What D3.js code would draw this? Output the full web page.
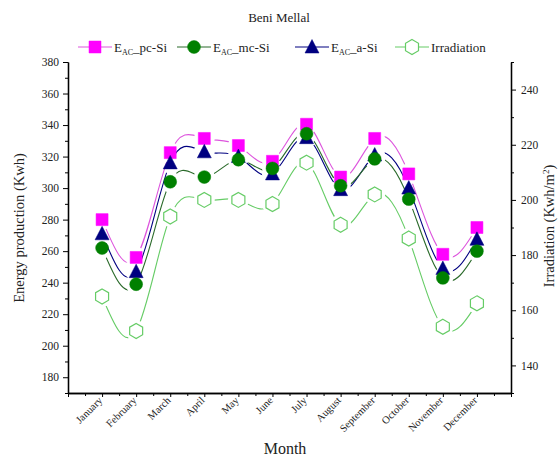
<!DOCTYPE html>
<html>
<head>
<meta charset="utf-8">
<script src="https://cdn.jsdelivr.net/npm/d3@7"></script>
<style>
  body { margin: 0; background: #fff; }
  svg text { font-family: "Liberation Serif", "Times New Roman", serif; }
  .axis path, .axis line { stroke: #000; }
</style>
</head>
<body>
<svg id="chart" width="558" height="459"></svg>
<script>
// Data
var months = ["January", "February", "March", "April", "May", "June",
              "July", "August", "September", "October", "November", "December"];
var pcSi   = [280, 256, 322.5, 331.5, 327, 317, 340.5, 307, 331.5, 309, 258, 275];
var mcSi   = [262, 239, 304, 307, 318, 312.5, 334.5, 301.5, 318.5, 293, 243, 260];
var aSi    = [271, 247, 316, 323, 320, 309, 332, 299, 321, 300, 249, 267.5];
var irrad  = [165, 152.5, 194, 200, 200, 198.5, 213.5, 191, 202, 186, 154, 162.5];
var leftTicks  = [180, 200, 220, 240, 260, 280, 300, 320, 340, 360, 380];
var rightTicks = [140, 160, 180, 200, 220, 240];

var svg = d3.select("#chart");

// plot area
var x  = d3.scaleLinear().domain([0, 13]).range([68, 511]);
var yL = d3.scaleLinear().domain([170, 380]).range([393, 62]);
var yR = d3.scaleLinear().domain([130, 250]).range([393, 62]);

// series setup
var series = [
  { name: "pc-Si", values: pcSi, y: yL, line: "#dd55dd", fill: "#ff00ff", stroke: "#ff00ff", shape: "square" },
  { name: "a-Si",  values: aSi,  y: yL, line: "#000080", fill: "#000080", stroke: "#000080", shape: "triangle" },
  { name: "mc-Si", values: mcSi, y: yL, line: "#2a6a2a", fill: "#008000", stroke: "#008000", shape: "circle" },
  { name: "Irradiation", values: irrad, y: yR, line: "#66cc66", fill: "none", stroke: "#66cc66", shape: "hexagon" }
];

function symbolPath(shape) {
  if (shape === "square") return "M-6,-6H6V6H-6Z";
  if (shape === "circle") return d3.symbol().type(d3.symbolCircle).size(130)();
  if (shape === "triangle") return "M0,-7.5L7,6L-7,6Z";
  // hexagon, pointy top
  var pts = d3.range(6).map(function(i) {
    var a = Math.PI / 3 * i - Math.PI / 2;
    return [7.5 * Math.cos(a), 7.5 * Math.sin(a)];
  });
  return "M" + pts.join("L") + "Z";
}

// axes
var gL = svg.append("g").attr("class", "axis").attr("transform", "translate(68,0)");
gL.call(d3.axisLeft(yL).tickValues(leftTicks).tickSize(5).tickSizeOuter(0).tickPadding(4));
gL.append("g").call(d3.axisLeft(yL).tickValues(d3.range(170, 381, 10).filter(function(v){ return leftTicks.indexOf(v) < 0; }))
  .tickSize(3).tickSizeOuter(0).tickFormat(""));

var gR = svg.append("g").attr("class", "axis").attr("transform", "translate(511,0)");
gR.call(d3.axisRight(yR).tickValues(rightTicks).tickSize(5).tickSizeOuter(0).tickPadding(5));
gR.append("g").call(d3.axisRight(yR).tickValues(d3.range(130, 251, 10).filter(function(v){ return rightTicks.indexOf(v) < 0; }))
  .tickSize(3).tickSizeOuter(0).tickFormat(""));

var gB = svg.append("g").attr("class", "axis").attr("transform", "translate(0,393)");
gB.call(d3.axisBottom(x).tickValues(d3.range(0, 14)).tickSize(4).tickSizeOuter(0).tickFormat(""));
gB.append("g").call(d3.axisBottom(x).tickValues(d3.range(0.5, 13, 1)).tickSize(3).tickSizeOuter(0).tickFormat(""));
svg.selectAll(".axis").attr("font-family", "Liberation Serif, serif");
svg.selectAll(".axis text").attr("font-size", 11.5).attr("fill", "#222");
svg.selectAll(".axis path.domain").attr("stroke-width", 1.3);

// month labels
svg.append("g").selectAll("text")
  .data(months)
  .enter().append("text")
    .attr("transform", function(d, i) { return "translate(" + (x(i + 1) + 1) + ",401) rotate(-45)"; })
    .attr("text-anchor", "end")
    .attr("font-size", 10.5)
    .attr("fill", "#222")
    .text(function(d) { return d; });

// masks so lines stop short of their own symbols
var defs = svg.append("defs");
series.forEach(function(s, k) {
  var m = defs.append("mask").attr("id", "gap" + k).attr("maskUnits", "userSpaceOnUse")
    .attr("x", 0).attr("y", 0).attr("width", 558).attr("height", 459);
  m.append("rect").attr("width", 558).attr("height", 459).attr("fill", "#fff");
  m.selectAll("circle").data(s.values).enter().append("circle")
    .attr("cx", function(d, i) { return x(i + 1); })
    .attr("cy", function(d) { return s.y(d); })
    .attr("r", 10.5).attr("fill", "#000");
});

var plot = svg.append("g");
series.forEach(function(s, k) {
  var line = d3.line()
    .x(function(d, i) { return x(i + 1); })
    .y(function(d) { return s.y(d); })
    .curve(d3.curveNatural);
  plot.append("path")
    .datum(s.values)
    .attr("d", line)
    .attr("fill", "none")
    .attr("stroke", s.line)
    .attr("stroke-width", 1.1)
    .attr("mask", "url(#gap" + k + ")");
});
series.forEach(function(s) {
  plot.append("g").selectAll("path")
    .data(s.values)
    .enter().append("path")
      .attr("transform", function(d, i) { return "translate(" + x(i + 1) + "," + s.y(d) + ")"; })
      .attr("d", symbolPath(s.shape))
      .attr("fill", s.fill)
      .attr("stroke", s.stroke)
      .attr("stroke-width", s.shape === "hexagon" ? 1.2 : 0.5);
});

// title
svg.append("text").attr("x", 279).attr("y", 22).attr("text-anchor", "middle")
  .attr("font-size", 13).attr("fill", "#222").text("Beni Mellal");

// legend
var legend = [
  { s: series[0], label: "pc-Si", x: 78 },
  { s: series[2], label: "mc-Si", x: 177 },
  { s: series[1], label: "a-Si",  x: 295 },
  { s: series[3], label: "Irradiation", x: 395 }
];
legend.forEach(function(l) {
  var g = svg.append("g").attr("transform", "translate(" + l.x + ",47)");
  g.append("line").attr("x1", 0).attr("x2", 34).attr("y1", 0).attr("y2", 0)
    .attr("stroke", l.s.line).attr("stroke-width", 1.1);
  g.append("path").attr("transform", "translate(17,0)").attr("d", symbolPath(l.s.shape))
    .attr("fill", l.s.shape === "hexagon" ? "#fff" : l.s.fill).attr("stroke", l.s.stroke)
    .attr("stroke-width", l.s.shape === "hexagon" ? 1.2 : 0.5);
  var t = g.append("text").attr("x", 36).attr("y", 4.5).attr("font-size", 13).attr("fill", "#222");
  if (l.label === "Irradiation") {
    t.text("Irradiation");
  } else {
    t.append("tspan").text("E");
    t.append("tspan").attr("font-size", 8).attr("dy", 3).text("AC");
    t.append("tspan").attr("dy", -3).text("_" + l.label);
  }
});

// axis titles
svg.append("text").attr("transform", "translate(24,228) rotate(-90)").attr("text-anchor", "middle")
  .attr("font-size", 14.5).attr("fill", "#222").text("Energy production (Kwh)");
var rt = svg.append("text").attr("transform", "translate(554,226) rotate(-90)").attr("text-anchor", "middle")
  .attr("font-size", 14.5).attr("fill", "#222");
rt.append("tspan").text("Irradiation (Kwh/m");
rt.append("tspan").attr("font-size", 9).attr("dy", -5).text("2");
rt.append("tspan").attr("dy", 5).text(")");
svg.append("text").attr("x", 285).attr("y", 454).attr("text-anchor", "middle")
  .attr("font-size", 16).attr("fill", "#222").text("Month");
</script>
</body>
</html>
